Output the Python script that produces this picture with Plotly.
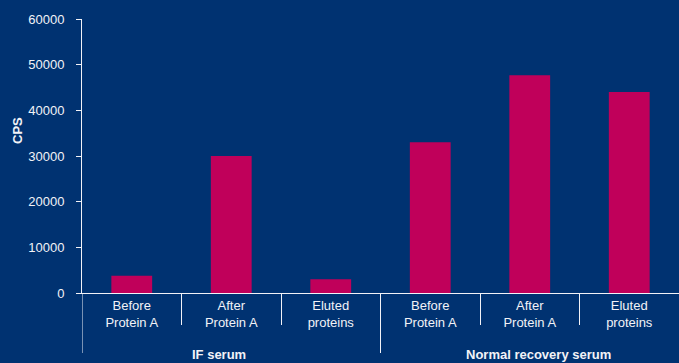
import plotly.graph_objects as go

# Fractions measured for each serum group
group_names = ["IF serum", "Normal recovery serum"]
fractions = ["Before<br>Protein A", "After<br>Protein A", "Eluted<br>proteins"] * 2
cps = [3800, 30000, 3000, 33000, 47700, 44000]

y_ticks = [0, 10000, 20000, 30000, 40000, 50000, 60000]

BG = "#003271"
BAR = "#C0005A"
TXT = "#F2F2F7"
FONT = "Liberation Sans, Arial, sans-serif"

pos = list(range(len(cps)))
per_group = len(cps) // len(group_names)
# category boundaries inside each group and between groups
inner_bounds = [i + 0.5 for i in pos[:-1] if (i + 1) % per_group != 0]
group_bounds = [g * per_group - 0.5 for g in range(len(group_names))]
group_centers = [g * per_group + (per_group - 1) / 2 for g in range(len(group_names))]

fig = go.Figure(
    go.Bar(
        x=pos,
        y=cps,
        marker=dict(color=BAR, line=dict(width=0)),
    )
)

PLOT_H = 363 - 19 - 70

# group dividers running down below the axis
for xb in group_bounds:
    fig.add_shape(
        type="line", xref="x", yref="paper",
        x0=xb, x1=xb, y0=0, y1=-60 / PLOT_H,
        line=dict(color=TXT, width=1),
    )

# group captions
for name, xc, dx in zip(group_names, group_centers, [-12, 9]):
    fig.add_annotation(
        x=xc, y=-61 / PLOT_H, xref="x", yref="paper",
        text=f"<b>{name}</b>", showarrow=False, xshift=dx,
        font=dict(family=FONT, size=13, color=TXT),
        yanchor="middle",
    )

# y-axis caption, placed a little above the middle of the axis
fig.add_annotation(
    x=0, y=162 / PLOT_H, xref="paper", yref="paper",
    text="<b>CPS</b>", textangle=-90, showarrow=False,
    xanchor="center", yanchor="middle", xshift=-65,
    font=dict(family=FONT, size=13, color=TXT),
)

fig.update_layout(
    width=679,
    height=363,
    margin=dict(l=82, r=0, t=19, b=70),
    paper_bgcolor=BG,
    plot_bgcolor=BG,
    bargap=0.59,
    showlegend=False,
    font=dict(family=FONT, size=13, color=TXT),
)

fig.update_xaxes(
    range=[-0.5, len(cps) - 0.5],
    tickvals=pos,
    ticktext=fractions,
    ticks="",
    showline=True,
    linecolor=TXT,
    linewidth=1,
    showgrid=False,
    zeroline=False,
    tickfont=dict(family=FONT, size=13, color=TXT),
    minor=dict(
        tickmode="array",
        tickvals=inner_bounds,
        ticks="outside",
        ticklen=31,
        tickcolor=TXT,
        tickwidth=1,
        showgrid=False,
    ),
)

fig.update_yaxes(
    range=[0, 60000],
    tickvals=y_ticks,
    ticktext=[str(v) for v in y_ticks],
    showline=True,
    linecolor=TXT,
    linewidth=1,
    showgrid=False,
    zeroline=False,
    ticks="outside",
    ticklen=5,
    tickcolor=TXT,
    ticklabelstandoff=9,
    tickfont=dict(family=FONT, size=13, color=TXT),
)

fig.write_html("out.html")
